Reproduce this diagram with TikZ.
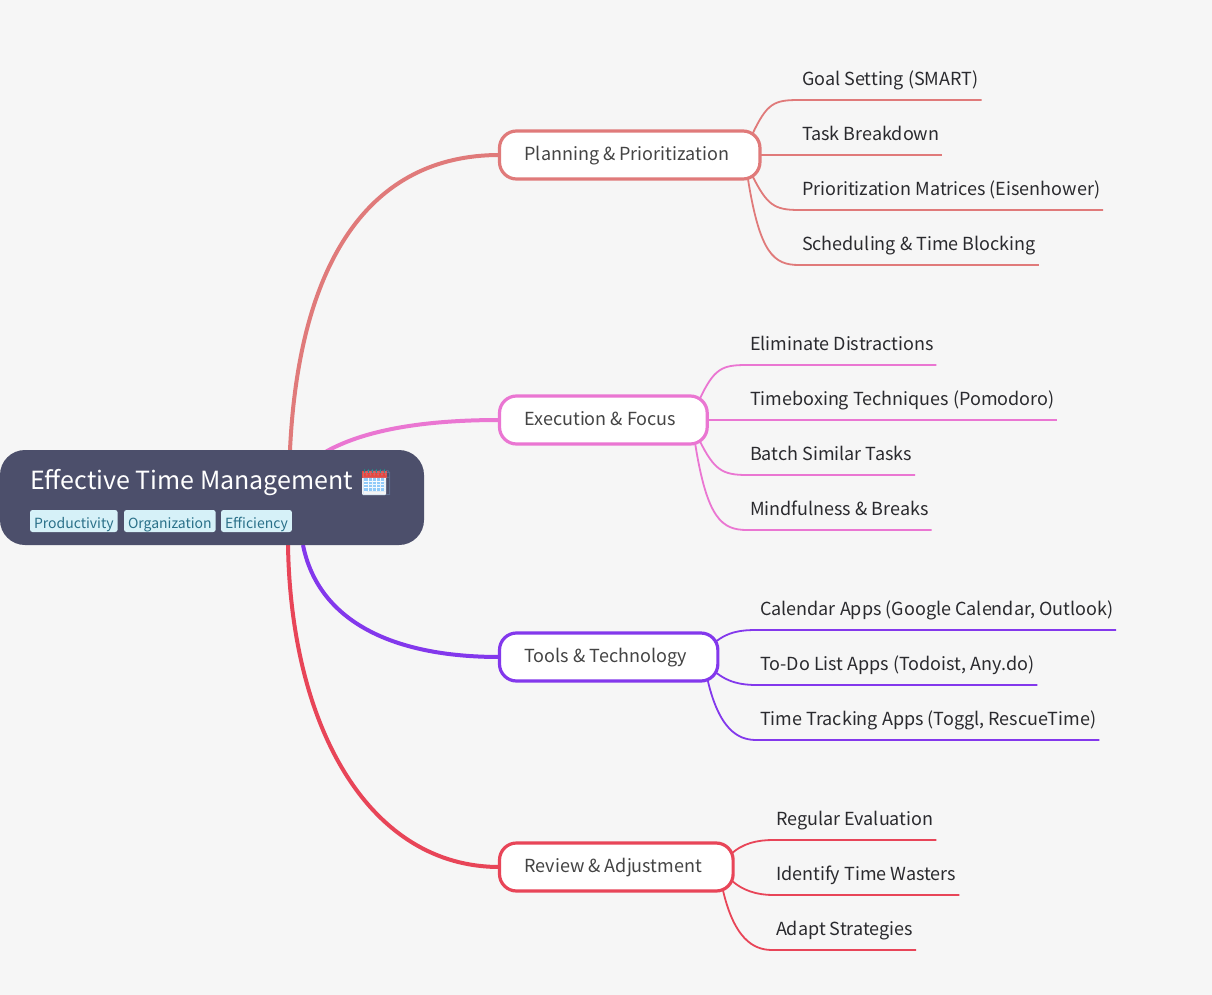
\documentclass[tikz,border=0pt]{standalone}
\usepackage{fontspec}
\usepackage{xcolor}
\setmainfont{Noto Sans CJK SC}
\newfontfamily\emojifont{Noto Emoji}
\usetikzlibrary{positioning}
\definecolor{canvas}{HTML}{F6F6F6}
\definecolor{rootfill}{HTML}{4C4F6B}
\definecolor{tagfill}{HTML}{D6F1F8}
\definecolor{tagtext}{HTML}{2A7089}
\definecolor{leaftext}{HTML}{2A2A2E}
\definecolor{branchtext}{HTML}{444444}
\definecolor{plan}{HTML}{E07A7A}
\definecolor{exec}{HTML}{EA76D2}
\definecolor{tools}{HTML}{8338EC}
\definecolor{review}{HTML}{E84558}
\definecolor{calblue}{HTML}{90CAF9}
\definecolor{calred}{HTML}{E8453C}
\pgfdeclarelayer{paper}
\pgfdeclarelayer{links}
\pgfsetlayers{paper,links,main}
\newcommand{\btext}[1]{#1\hspace*{6pt}}
\tikzset{
    px/.style={x=1pt,y=-1pt},
    rootbox/.style={fill=rootfill, rounded corners=25pt, minimum width=424pt, minimum height=95pt, inner sep=0pt, outer sep=0pt, anchor=north west},
    roottitle/.style={text=white, font=\fontsize{25}{28}\selectfont, inner sep=0pt, anchor=base west},
    tag/.style={fill=tagfill, text=tagtext, rounded corners=2.5pt, font=\fontsize{14}{16}\selectfont, inner xsep=4pt, inner ysep=0pt, outer sep=0pt, text height=14pt, text depth=0pt, minimum height=22pt, anchor=north west},
    branch/.style={draw=#1, fill=white, line width=3.2pt, rounded corners=17pt, minimum height=48pt, inner xsep=25pt, inner ysep=0pt, outer sep=0pt, text height=17.5pt, text depth=6pt, text=branchtext, font=\fontsize{18}{20}\selectfont, anchor=north west},
    leaf/.style={text=leaftext, font=\fontsize{18}{20}\selectfont, inner xsep=3pt, inner ysep=0pt, outer sep=0pt, text height=14pt, text depth=14.6pt, anchor=south west},
    trunk/.style={line width=4pt, draw=#1},
    twig/.style={line width=1.8pt, draw=#1},
}

\begin{document}
\begin{tikzpicture}[px]
    \useasboundingbox (0,0) rectangle (1212,995);
    \begin{pgfonlayer}{paper}
        \fill[canvas] (0,0) rectangle (1212,995);
    \end{pgfonlayer}

    % root
    \node[rootbox] (root) at (0,450) {};
    \node[roottitle] (title) at (30,489) {Effective Time Management};
    \fill[white!92!gray, rounded corners=1pt] (362,474) rectangle (386,495);
    \fill[calblue] (364,478) rectangle (384,491);
    \foreach \gx in {368,372,376,380} \draw[white, line width=.6pt] (\gx,478) -- (\gx,491);
    \foreach \gy in {481,484,487} \draw[white, line width=.6pt] (364,\gy) -- (384,\gy);
    \fill[calred] (361.5,471) rectangle (386.5,478);
    \foreach \gx in {365,369,373,377,381,385} \draw[teal!70!gray, line width=1pt] (\gx-1,468.5) -- (\gx-1,472.5);
    \node[roottitle, font=\emojifont\fontsize{26}{28}\selectfont, text=calblue, opacity=.25] (cal) at (360,492) {🗓};
    \node[tag] (tag1) at (30,510) {Productivity};
    \node[tag] (tag2) at (124,510) {Organization};
    \node[tag] (tag3) at (221,510) {Efficiency};

    % branches
    \node[branch=plan] (plan) at (499.5,131) {\btext{Planning \& Prioritization}};
    \node[branch=exec] (exec) at (499.5,396) {\btext{Execution \& Focus}};
    \node[branch=tools] (tools) at (499.5,633) {\btext{Tools \& Technology}};
    \node[branch=review] (review) at (499.5,843) {\btext{Review \& Adjustment}};

    % leaves
    \node[leaf] (p1) at (799,100) {Goal Setting (SMART)};
    \node[leaf] (p2) at (799,155) {Task Breakdown};
    \node[leaf] (p3) at (799,210) {Prioritization Matrices (Eisenhower)};
    \node[leaf] (p4) at (799,265) {Scheduling \& Time Blocking};

    \node[leaf] (e1) at (747,365) {Eliminate Distractions};
    \node[leaf] (e2) at (747,420) {Timeboxing Techniques (Pomodoro)};
    \node[leaf] (e3) at (747,475) {Batch Similar Tasks};
    \node[leaf] (e4) at (747,530) {Mindfulness \& Breaks};

    \node[leaf] (t1) at (757,630) {Calendar Apps (Google Calendar, Outlook)};
    \node[leaf] (t2) at (757,685) {To-Do List Apps (Todoist, Any.do)};
    \node[leaf] (t3) at (757,740) {Time Tracking Apps (Toggl, RescueTime)};

    \node[leaf] (r1) at (773,840) {Regular Evaluation};
    \node[leaf] (r2) at (773,895) {Identify Time Wasters};
    \node[leaf] (r3) at (773,950) {Adapt Strategies};

    \begin{pgfonlayer}{links}
        \draw[trunk=plan] ([xshift=290pt]root.north west) .. controls +(9,-190) and +(-129,0) .. (plan.west);
        \draw[trunk=exec] ([xshift=322pt,yshift=-4pt]root.north west) .. controls +(28,-17) and +(-99,0) .. (exec.west);
        \draw[trunk=tools] ([xshift=303pt]root.south west) .. controls +(15,75) and +(-109,0) .. (tools.west);
        \draw[trunk=review] ([xshift=288pt]root.south west) .. controls +(3,185) and +(-129,0) .. (review.west);

        \draw[twig=plan] ([xshift=-8pt,yshift=-4pt]plan.north east) .. controls +(15,-32) and +(-25,0) .. (p1.south west) -- (p1.south east);
        \draw[twig=plan] (plan.east) -- (p2.south west) -- (p2.south east);
        \draw[twig=plan] ([xshift=-8pt,yshift=4pt]plan.south east) .. controls +(15,30) and +(-25,0) .. (p3.south west) -- (p3.south east);
        \draw[twig=plan] ([xshift=-12pt]plan.south east) .. controls +(12,75) and +(-25,0) .. (p4.south west) -- (p4.south east);

        \draw[twig=exec] ([xshift=-8pt,yshift=-4pt]exec.north east) .. controls +(15,-32) and +(-25,0) .. (e1.south west) -- (e1.south east);
        \draw[twig=exec] (exec.east) -- (e2.south west) -- (e2.south east);
        \draw[twig=exec] ([xshift=-8pt,yshift=4pt]exec.south east) .. controls +(15,30) and +(-25,0) .. (e3.south west) -- (e3.south east);
        \draw[twig=exec] ([xshift=-12pt]exec.south east) .. controls +(12,75) and +(-25,0) .. (e4.south west) -- (e4.south east);

        \draw[twig=tools] ([xshift=-6pt,yshift=-12pt]tools.north east) .. controls +(15,-14) and +(-15,0) .. (t1.south west) -- (t1.south east);
        \draw[twig=tools] ([xshift=-6pt,yshift=12pt]tools.south east) .. controls +(15,14) and +(-15,0) .. (t2.south west) -- (t2.south east);
        \draw[twig=tools] ([xshift=-10pt]tools.south east) .. controls +(13,55) and +(-14,0) .. (t3.south west) -- (t3.south east);

        \draw[twig=review] ([xshift=-3pt,yshift=-12pt]review.north east) .. controls +(12,-12) and +(-15,0) .. (r1.south west) -- (r1.south east);
        \draw[twig=review] ([xshift=-3pt,yshift=12pt]review.south east) .. controls +(12,12) and +(-15,0) .. (r2.south west) -- (r2.south east);
        \draw[twig=review] ([xshift=-10pt]review.south east) .. controls +(13,55) and +(-14,0) .. (r3.south west) -- (r3.south east);
    \end{pgfonlayer}
\end{tikzpicture}
\end{document}
